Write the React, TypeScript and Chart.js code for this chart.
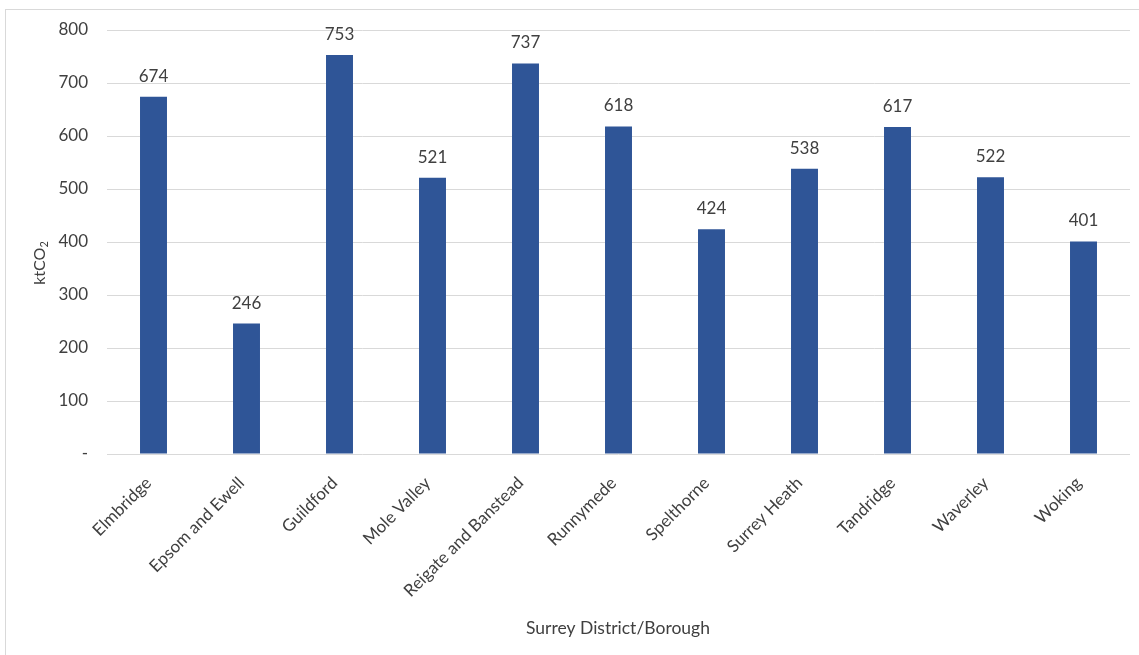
import React, { useEffect, useRef } from "react";
import { Chart, registerables } from "chart.js";

Chart.register(...registerables);

const categories = [
  "Elmbridge",
  "Epsom and Ewell",
  "Guildford",
  "Mole Valley",
  "Reigate and Banstead",
  "Runnymede",
  "Spelthorne",
  "Surrey Heath",
  "Tandridge",
  "Waverley",
  "Woking",
];
const emissions = [674, 246, 753, 521, 737, 618, 424, 538, 617, 522, 401];
const yTicks = [0, 100, 200, 300, 400, 500, 600, 700, 800];
const xTitle = "Surrey District/Borough";
const yTitleMain = "ktCO";
const yTitleSub = "2";

const FONT = "Lato, 'Open Sans', sans-serif";
const TEXT = "#404040";

const labelsPlugin = {
  id: "labelsPlugin",
  afterDatasetsDraw(chart: any) {
    const ctx = chart.ctx;
    const meta = chart.getDatasetMeta(0);
    ctx.save();
    ctx.fillStyle = TEXT;
    ctx.font = `17px ${FONT}`;
    ctx.textAlign = "center";
    ctx.textBaseline = "bottom";
    meta.data.forEach((bar: any, i: number) => {
      ctx.fillText(String(emissions[i]), bar.x, bar.y - 12);
    });
    // x title
    const area = chart.chartArea;
    ctx.font = `17.5px ${FONT}`;
    ctx.textBaseline = "middle";
    ctx.fillText(xTitle, 618, 628);
    // y title
    ctx.translate(40, area.top + (area.bottom - area.top) / 2 + 21);
    ctx.rotate(-Math.PI / 2);
    ctx.textAlign = "left";
    ctx.font = `16px ${FONT}`;
    const w = ctx.measureText(yTitleMain).width;
    ctx.font = `11px ${FONT}`;
    const ws = ctx.measureText(yTitleSub).width;
    const total = w + ws;
    ctx.font = `16px ${FONT}`;
    ctx.fillText(yTitleMain, -total / 2, 0);
    ctx.font = `11px ${FONT}`;
    ctx.fillText(yTitleSub, -total / 2 + w, 4);
    ctx.restore();
  },
};

export default function App() {
  const ref = useRef<HTMLCanvasElement>(null);
  useEffect(() => {
    if (!ref.current) return;
    const chart = new Chart(ref.current, {
      type: "bar",
      data: {
        labels: categories,
        datasets: [
          {
            data: emissions,
            backgroundColor: "#2f5597",
            borderWidth: 0,
            categoryPercentage: 1,
            barPercentage: 0.29,
          },
        ],
      },
      options: {
        animation: false,
        responsive: false,
        events: [],
        layout: { padding: { left: 0, top: 30, right: 9, bottom: 0 } },
        plugins: {
          legend: { display: false },
          tooltip: { enabled: false },
          title: { display: false },
        },
        scales: {
          x: {
            grid: { display: false, drawTicks: false },
            border: { display: false },
            ticks: {
              color: TEXT,
              font: { family: FONT, size: 17 },
              minRotation: 45,
              maxRotation: 45,
              padding: 19,
              labelOffset: -5,
              autoSkip: false,
            },
            afterFit: (s: any) => {
              s.height = 655 - 454;
            },
          },
          y: {
            min: 0,
            max: 800,
            afterBuildTicks: (s: any) => {
              s.ticks = yTicks.map((v) => ({ value: v }));
            },
            grid: { color: "#d9d9d9", lineWidth: 1, drawTicks: false },
            border: { display: false },
            ticks: {
              color: TEXT,
              font: { family: FONT, size: 17 },
              padding: 19,
              callback: (v: any) => (Number(v) === 0 ? "-" : String(v)),
            },
            afterFit: (s: any) => {
              s.width = 107;
            },
          },
        },
      },
      plugins: [labelsPlugin],
    });
    return () => chart.destroy();
  }, []);

  return (
    <div
      style={{
        position: "fixed",
        left: 0,
        top: 0,
        width: 1139,
        height: 655,
        overflow: "hidden",
        background: "#fff",
      }}
    >
      <div
        style={{
          position: "absolute",
          left: 5,
          top: 9,
          width: 1200,
          height: 700,
          border: "1px solid #d9d9d9",
        }}
      />
      <canvas
        ref={ref}
        width={1139}
        height={655}
        style={{ position: "absolute", left: 0, top: 0 }}
      />
    </div>
  );
}
